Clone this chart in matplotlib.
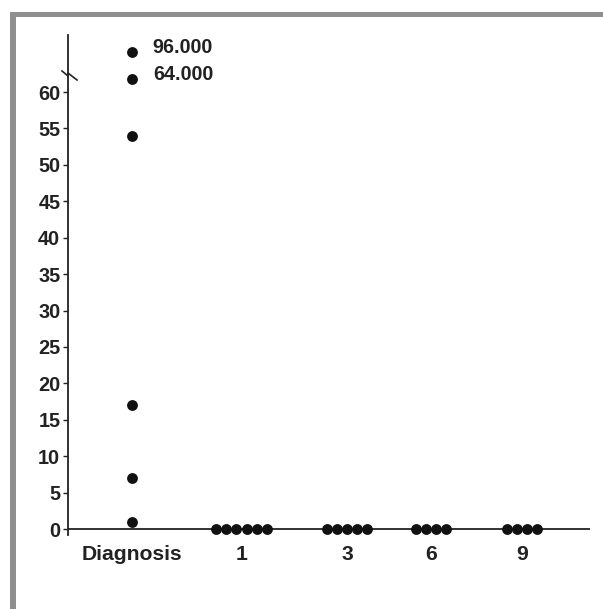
import numpy as np
import matplotlib
matplotlib.use("Agg")
import matplotlib.pyplot as plt
from matplotlib.lines import Line2D

# ---- data ----
categories = ["Diagnosis", "1", "3", "6", "9"]
diagnosis_values = [96, 64, 54, 17, 7, 1]
group_values = {
    "1": [0, 0, 0, 0, 0, 0],
    "3": [0, 0, 0, 0, 0],
    "6": [0, 0, 0, 0],
    "9": [0, 0, 0, 0],
}
labelled_values = [96, 64]
yticks = [0, 5, 10, 15, 20, 25, 30, 35, 40, 45, 50, 55, 60]

# ---- layout ----
cat_pos = [6.4, 17.35, 27.9, 36.3, 45.4]
dot_step = 1.02

# broken axis: values above 60 are compressed
bp_data = [-100, 0, 60, 64, 96, 1000]
bp_disp = [-100, 0, 60, 61.8, 65.5, 65.5 + 904 * (3.7 / 32)]
fwd = lambda v: np.interp(v, bp_data, bp_disp)
inv = lambda d: np.interp(d, bp_disp, bp_data)

plt.rcParams['font.family'] = ['Liberation Sans', 'DejaVu Sans']
fig = plt.figure(figsize=(6.03, 6.09), dpi=100)
W, H = 603, 609
ax = fig.add_axes([68 / W, (H - 535) / H, (590 - 68) / W, 500 / H])
ax.set_yscale('function', functions=(fwd, inv))
ax.set_ylim(inv(-0.82), float(inv(67.83)))
ax.set_xlim(0, 52.2)

ms = 7.8
# diagnosis dots
ax.plot([cat_pos[0]] * len(diagnosis_values), diagnosis_values, 'o',
        color='#111111', ms=ms, mec='none', clip_on=False, zorder=3)
for v in labelled_values:
    ax.annotate(f"{v:.3f}", (cat_pos[0], v), xytext=(15, 3),
                textcoords='offset points', fontsize=14.2, fontweight='bold',
                color='#222222', va='center', ha='left')
# follow-up groups
for i, cat in enumerate(categories[1:], start=1):
    vals = group_values[cat]
    n = len(vals)
    xs = cat_pos[i] + (np.arange(n) - (n - 1) / 2) * dot_step
    ax.plot(xs, vals, 'o', color='#111111', ms=ms, mec='none',
            clip_on=False, zorder=3)

ax.axhline(0, color='#222222', lw=1.3, zorder=2)
for s in ['top', 'right', 'bottom']:
    ax.spines[s].set_visible(False)
ax.spines['left'].set_color('#222222')
ax.spines['left'].set_linewidth(1.3)

ax.set_yticks(yticks)
ax.set_yticklabels([str(t) for t in yticks])
ax.yaxis.set_minor_locator(matplotlib.ticker.NullLocator())
ax.tick_params(axis='y', length=3.5, width=1, color='#222222', pad=2,
               labelsize=14.3, labelcolor='#222222')
for lab in ax.get_yticklabels():
    lab.set_fontweight('bold')
ax.set_xticks(cat_pos)
ax.set_xticklabels(categories)
ax.tick_params(axis='x', length=0, pad=7, labelsize=15.2, labelcolor='#222222')
for lab in ax.get_xticklabels():
    lab.set_fontweight('bold')

# break marks (pixel -> figure coords)
def fx(px):
    return px / W
def fy(py):
    return (H - py) / H
fig.add_artist(Line2D([fx(62), fx(68)], [fy(71), fy(76)], color='#222222', lw=1.2))
fig.add_artist(Line2D([fx(68), fx(77)], [fy(73), fy(80)], color='#222222', lw=1.2))

# gray frame on top and left
fig.add_artist(plt.Rectangle((fx(10), 0), 6 / W, fy(12), color='#8f8f8f',
                             transform=fig.transFigure, lw=0))
fig.add_artist(plt.Rectangle((fx(10), fy(17)), 1, 5 / H, color='#8f8f8f',
                             transform=fig.transFigure, lw=0))

fig.savefig("out.png", dpi=100)
